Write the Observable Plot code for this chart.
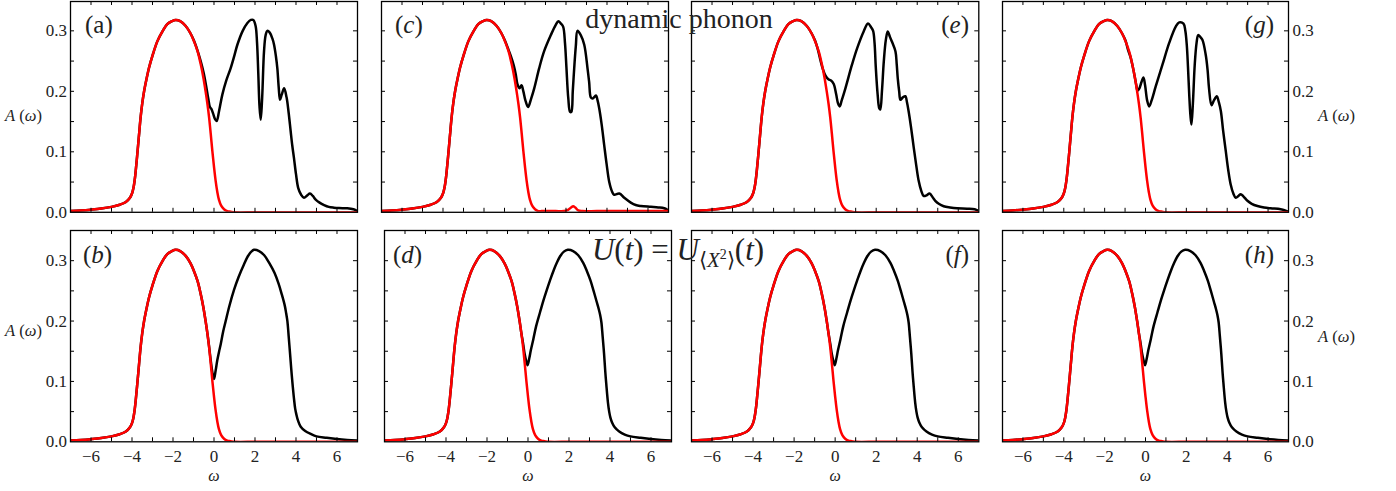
<!DOCTYPE html>
<html><head><meta charset="utf-8">
<script src="https://cdn.jsdelivr.net/npm/d3@7"></script>
<script src="https://cdn.jsdelivr.net/npm/@observablehq/plot@0.6"></script>
<style>
html,body{margin:0;padding:0;background:#fff;}
#fig{position:relative;width:1396px;height:491px;overflow:hidden;background:#fff;font-family:"Liberation Serif",serif;}
#fig svg{position:absolute;overflow:visible;}
#fig svg.pan text{font-family:"Liberation Serif",serif;font-size:17px;fill:#222;}
#fig svg.pan g[aria-label="text"] text{font-size:16px;font-style:italic;}
</style></head><body><div id="fig"></div>
<script>
// ---------------- data ----------------
// occupied spectral weight (red), shared by all panels
const omegaRed = [-7, -6.5, -6, -5.5, -5, -4.6, -4.3, -4.1, -4.0, -3.93, -3.87, -3.82, -3.75, -3.66, -3.58, -3.5, -3.41, -3.3, -3.17, -3.0, -2.76, -2.5, -2.28, -2.05, -1.87, -1.65, -1.38, -1.15, -0.98, -0.8, -0.65, -0.52, -0.41, -0.32, -0.24, -0.16, -0.08, 0, 0.08, 0.16, 0.24, 0.35, 0.49, 0.65, 0.81, 1.0, 2.0, 3.0, 4.0, 5.0, 6.0, 7.0];
const aRed = [0.002, 0.003, 0.0044, 0.0062, 0.009, 0.0125, 0.017, 0.024, 0.031, 0.04, 0.053, 0.068, 0.093, 0.127, 0.157, 0.18, 0.2, 0.219, 0.239, 0.259, 0.283, 0.3, 0.311, 0.316, 0.318, 0.316, 0.308, 0.296, 0.283, 0.266, 0.245, 0.223, 0.2, 0.179, 0.157, 0.13, 0.101, 0.075, 0.052, 0.034, 0.021, 0.011, 0.005, 0.002, 0.001, 0, 0, 0, 0, 0, 0, 0];
// small bump of the red curve in panel (c), right of omega = 0.81
const omegaRedTailC = [0.81, 1.0, 1.5, 1.9, 2.1, 2.25, 2.35, 2.45, 2.6, 2.8, 3.5, 4.5, 5.5, 6.5, 7.0];
const aRedTailC = [0.002, 0.002, 0.002, 0.002, 0.004, 0.008, 0.01, 0.008, 0.003, 0.002, 0.002, 0.002, 0.002, 0.002, 0.002];

// total spectral function (black), top row: part right of omega = -0.98
const omegaBlackA = [-0.98, -0.8, -0.65, -0.5, -0.38, -0.28, -0.2, -0.13, -0.05, 0.05, 0.13, 0.25, 0.41, 0.6, 0.81, 1.0, 1.14, 1.4, 1.63, 1.8, 1.92, 2.03, 2.1, 2.16, 2.22, 2.28, 2.35, 2.44, 2.52, 2.6, 2.72, 2.85, 2.93, 3.02, 3.09, 3.16, 3.22, 3.3, 3.42, 3.54, 3.64, 3.74, 3.82, 3.9, 4.0, 4.11, 4.25, 4.39, 4.55, 4.68, 4.82, 4.96, 5.15, 5.37, 5.6, 5.85, 6.1, 6.5, 6.8, 7.0];
const aBlackA = [0.284, 0.267, 0.25, 0.23, 0.208, 0.188, 0.174, 0.171, 0.164, 0.154, 0.151, 0.168, 0.195, 0.218, 0.238, 0.26, 0.277, 0.3, 0.313, 0.318, 0.318, 0.308, 0.28, 0.23, 0.175, 0.153, 0.19, 0.266, 0.293, 0.3, 0.297, 0.287, 0.277, 0.258, 0.238, 0.205, 0.186, 0.194, 0.205, 0.19, 0.165, 0.134, 0.11, 0.09, 0.063, 0.04, 0.029, 0.024, 0.028, 0.031, 0.027, 0.021, 0.016, 0.012, 0.009, 0.0077, 0.007, 0.0066, 0.005, 0.002];

const omegaBlackC = [-0.98, -0.8, -0.69, -0.55, -0.45, -0.37, -0.27, -0.17, -0.08, 0.02, 0.15, 0.3, 0.45, 0.69, 0.93, 1.26, 1.5, 1.63, 1.75, 1.86, 1.95, 2.02, 2.11, 2.2, 2.26, 2.33, 2.4, 2.48, 2.56, 2.72, 2.89, 3.05, 3.13, 3.21, 3.3, 3.46, 3.54, 3.62, 3.74, 3.86, 3.98, 4.11, 4.25, 4.35, 4.6, 4.84, 5.16, 5.4, 5.65, 6.14, 6.5, 6.79, 7.0];
const aBlackC = [0.284, 0.268, 0.258, 0.243, 0.228, 0.212, 0.205, 0.21, 0.2, 0.185, 0.174, 0.188, 0.205, 0.238, 0.266, 0.293, 0.31, 0.316, 0.312, 0.307, 0.28, 0.24, 0.189, 0.166, 0.166, 0.2, 0.238, 0.275, 0.3, 0.293, 0.277, 0.238, 0.215, 0.19, 0.188, 0.193, 0.185, 0.172, 0.145, 0.112, 0.08, 0.05, 0.034, 0.029, 0.031, 0.024, 0.016, 0.012, 0.0104, 0.009, 0.008, 0.0066, 0.003];

const omegaBlackE = [-0.98, -0.85, -0.72, -0.6, -0.47, -0.33, -0.2, -0.07, 0.05, 0.14, 0.22, 0.32, 0.5, 0.82, 1.07, 1.39, 1.6, 1.75, 1.85, 1.92, 1.98, 2.07, 2.15, 2.2, 2.28, 2.37, 2.47, 2.56, 2.67, 2.77, 2.94, 3.0, 3.05, 3.12, 3.18, 3.3, 3.42, 3.5, 3.58, 3.7, 3.83, 3.95, 4.07, 4.2, 4.31, 4.45, 4.6, 4.75, 4.88, 5.05, 5.29, 5.6, 5.94, 6.43, 6.8, 7.0];
const aBlackE = [0.284, 0.27, 0.252, 0.237, 0.226, 0.22, 0.218, 0.212, 0.195, 0.18, 0.175, 0.185, 0.205, 0.244, 0.271, 0.299, 0.312, 0.306, 0.3, 0.28, 0.24, 0.195, 0.172, 0.17, 0.2, 0.249, 0.285, 0.299, 0.29, 0.282, 0.266, 0.245, 0.222, 0.2, 0.186, 0.19, 0.192, 0.182, 0.167, 0.14, 0.107, 0.078, 0.052, 0.035, 0.027, 0.028, 0.031, 0.025, 0.019, 0.014, 0.01, 0.008, 0.0066, 0.006, 0.005, 0.002];

const omegaBlackG = [-0.98, -0.85, -0.72, -0.56, -0.45, -0.39, -0.3, -0.2, -0.1, -0.02, 0.08, 0.18, 0.3, 0.5, 0.83, 1.16, 1.48, 1.65, 1.86, 1.95, 2.02, 2.08, 2.14, 2.2, 2.25, 2.32, 2.41, 2.5, 2.58, 2.68, 2.79, 2.95, 3.04, 3.11, 3.23, 3.35, 3.49, 3.59, 3.69, 3.8, 3.93, 4.05, 4.17, 4.3, 4.42, 4.55, 4.66, 4.8, 4.99, 5.2, 5.48, 5.8, 6.13, 6.62, 7.0];
const aBlackG = [0.284, 0.268, 0.255, 0.23, 0.21, 0.201, 0.205, 0.215, 0.223, 0.21, 0.185, 0.175, 0.185, 0.208, 0.244, 0.28, 0.307, 0.314, 0.312, 0.3, 0.277, 0.24, 0.195, 0.16, 0.145, 0.18, 0.244, 0.28, 0.293, 0.29, 0.285, 0.26, 0.235, 0.205, 0.177, 0.185, 0.192, 0.182, 0.167, 0.135, 0.101, 0.07, 0.046, 0.031, 0.024, 0.027, 0.03, 0.026, 0.019, 0.014, 0.0104, 0.008, 0.0066, 0.005, 0.001];

// total spectral function (black), bottom row: part right of omega = -0.24
const omegaBlackB = [-0.24, -0.16, -0.08, 0, 0.08, 0.16, 0.25, 0.33, 0.45, 0.57, 0.75, 0.98, 1.2, 1.45, 1.7, 1.95, 2.2, 2.45, 2.7, 2.95, 3.15, 3.3, 3.45, 3.52, 3.58, 3.64, 3.71, 3.77, 3.82, 3.9, 3.96, 4.02, 4.1, 4.23, 4.45, 4.72, 5.0, 5.5, 6.0, 6.5, 7.0];
const aBlackB = [0.158, 0.135, 0.115, 0.104, 0.118, 0.135, 0.15, 0.162, 0.183, 0.2, 0.225, 0.252, 0.273, 0.293, 0.31, 0.318, 0.316, 0.309, 0.296, 0.28, 0.262, 0.245, 0.226, 0.213, 0.2, 0.176, 0.146, 0.12, 0.1, 0.072, 0.055, 0.045, 0.035, 0.025, 0.018, 0.013, 0.009, 0.0066, 0.0045, 0.003, 0.002];
const omegaBlackD = [-0.24, -0.16, -0.08, -0.02, 0.06, 0.14, 0.26, 0.4, 0.59, 0.75, 0.91, 1.07, 1.24, 1.4, 1.56, 1.75, 1.94, 2.2, 2.45, 2.7, 2.87, 3.05, 3.2, 3.35, 3.45, 3.52, 3.58, 3.64, 3.71, 3.77, 3.82, 3.9, 3.96, 4.02, 4.1, 4.23, 4.45, 4.72, 5.0, 5.5, 6.0, 6.5, 7.0];
const aBlackD = [0.163, 0.145, 0.133, 0.127, 0.138, 0.152, 0.17, 0.192, 0.215, 0.234, 0.251, 0.267, 0.283, 0.296, 0.307, 0.315, 0.318, 0.316, 0.309, 0.296, 0.283, 0.267, 0.25, 0.232, 0.22, 0.21, 0.198, 0.175, 0.146, 0.116, 0.095, 0.065, 0.05, 0.04, 0.032, 0.024, 0.017, 0.012, 0.009, 0.0066, 0.0045, 0.003, 0.002];

// ticks
const xTicks = [-6, -5, -4, -3, -2, -1, 0, 1, 2, 3, 4, 5, 6];
const xTickLabels = [-6, -4, -2, 0, 2, 4, 6];
const yTicks = [0.05, 0.1, 0.15, 0.2, 0.25, 0.3];
const yTickLabels = [0, 0.1, 0.2, 0.3];

// texts
const titleText = "dynamic phonon";
const panelLetters = ["a", "c", "e", "g", "b", "d", "f", "h"];

// ---------------- tables built from the arrays ----------------
const zip = (ws, as) => ws.map((w, i) => ({w, a: as[i]}));
const before = (ws, as, lim) => zip(ws, as).filter(d => d.w < lim);
const redBase = zip(omegaRed, aRed);
const redC = [...before(omegaRed, aRed, 0.81), ...zip(omegaRedTailC, aRedTailC)];
const topBlack = (ws, as) => [...before(omegaRed, aRed, -0.98), ...zip(ws, as)];
const botBlack = (ws, as) => [...before(omegaRed, aRed, -0.24), ...zip(ws, as)];

// ---------------- layout ----------------
const rowTop = {T: 0.5, B: 211.3, ymax: 0.3485};
const rowBot = {T: 230, B: 441.3, ymax: 0.35};
const panels = [
  {L: 70, R: 357, ...rowTop, black: topBlack(omegaBlackA, aBlackA), red: redBase, left: true},
  {L: 380.7, R: 667.7, ...rowTop, black: topBlack(omegaBlackC, aBlackC), red: redC},
  {L: 691, R: 978.3, ...rowTop, black: topBlack(omegaBlackE, aBlackE), red: redBase},
  {L: 1001.7, R: 1287.7, ...rowTop, black: topBlack(omegaBlackG, aBlackG), red: redBase, right: true},
  {L: 70, R: 357, ...rowBot, black: botBlack(omegaBlackB, aBlackB), red: redBase, left: true, bottom: true},
  {L: 384, R: 671, ...rowBot, black: botBlack(omegaBlackD, aBlackD), red: redBase, bottom: true},
  {L: 691, R: 978.3, ...rowBot, black: botBlack(omegaBlackD, aBlackD), red: redBase, bottom: true},
  {L: 1001.7, R: 1287.7, ...rowBot, black: botBlack(omegaBlackD, aBlackD), red: redBase, right: true, bottom: true}
];

const fig = document.getElementById("fig");
const ml = 60, mr = 60, mt = 6, mb = 50;
for (const p of panels) {
  const W = p.R - p.L, H = p.B - p.T;
  const marks = [
    Plot.line(p.black, {x: "w", y: "a", stroke: "#000", strokeWidth: 2.5, curve: "catmull-rom", clip: true}),
    Plot.line(p.red, {x: "w", y: "a", stroke: "#ff0000", strokeWidth: 2.5, curve: "catmull-rom", clip: true}),
    Plot.tickX(xTicks, {x: d => d, insetTop: H - 4, stroke: "#000", strokeWidth: 1}),
    Plot.tickX(xTicks, {x: d => d, insetBottom: H - 4, stroke: "#000", strokeWidth: 1}),
    Plot.tickY(yTicks, {y: d => d, insetRight: W - 4, stroke: "#000", strokeWidth: 1}),
    Plot.tickY(yTicks, {y: d => d, insetLeft: W - 4, stroke: "#000", strokeWidth: 1}),
    Plot.frame({stroke: "#000", strokeWidth: 1.3})
  ];
  if (p.bottom) {
    marks.push(Plot.axisX(xTickLabels, {anchor: "bottom", tickSize: 0, tickPadding: 8, label: null, fontSize: 17}));
    marks.push(Plot.text(["ω"], {text: d => d, frameAnchor: "bottom", dy: 39, fontSize: 16, fontStyle: "italic"}));
  }
  if (p.left) marks.push(Plot.axisY(yTickLabels, {anchor: "left", tickSize: 0, tickPadding: 3.5, tickFormat: ".1f", label: null, fontSize: 17}));
  if (p.right) marks.push(Plot.axisY(yTickLabels, {anchor: "right", tickSize: 0, tickPadding: 4, tickFormat: ".1f", label: null, fontSize: 17}));
  const svg = Plot.plot({
    width: W + ml + mr, height: H + mt + mb,
    marginLeft: ml, marginRight: mr, marginTop: mt, marginBottom: mb,
    x: {domain: [-7, 7], axis: null},
    y: {domain: [0, p.ymax], axis: null},
    style: {background: "transparent", overflow: "visible", fontFamily: "'Liberation Serif', serif", fontSize: "17px"},
    marks
  });
  svg.classList.add("pan");
  svg.style.left = (p.L - ml) + "px";
  svg.style.top = (p.T - mt) + "px";
  fig.appendChild(svg);
}

// ---------------- annotations ----------------
const ov = d3.select(fig).append("svg")
  .attr("width", 1396).attr("height", 491)
  .style("left", "0px").style("top", "0px")
  .style("font-family", "'Liberation Serif', serif").attr("fill", "#222");

ov.append("text").attr("x", 679).attr("y", 28).attr("text-anchor", "middle")
  .style("font-size", "28px").text(titleText);

// U(t) = U_<X^2>(t)
{
  const t = ov.append("text").attr("x", 678).attr("y", 260).attr("text-anchor", "middle").style("font-size", "31px");
  t.append("tspan").attr("font-style", "italic").text("U");
  t.append("tspan").text("(");
  t.append("tspan").attr("font-style", "italic").text("t");
  t.append("tspan").text(") = ");
  t.append("tspan").attr("font-style", "italic").text("U");
  t.append("tspan").style("font-size", "21px").attr("dy", 7).text("⟨");
  t.append("tspan").style("font-size", "21px").attr("font-style", "italic").text("X");
  t.append("tspan").style("font-size", "14px").attr("dy", -8).text("2");
  t.append("tspan").style("font-size", "21px").attr("dy", 8).text("⟩");
  t.append("tspan").attr("dy", -7).text("(");
  t.append("tspan").attr("font-style", "italic").text("t");
  t.append("tspan").text(")");
}

// panel labels
const labelPos = [
  {x: 85, y: 33, anchor: "start"}, {x: 395, y: 33, anchor: "start"},
  {x: 969, y: 33, anchor: "end"}, {x: 1274, y: 33, anchor: "end"},
  {x: 83, y: 263, anchor: "start"}, {x: 393, y: 263, anchor: "start"},
  {x: 969, y: 263, anchor: "end"}, {x: 1274, y: 263, anchor: "end"}
];
panelLetters.forEach((ch, i) => {
  const lp = labelPos[i];
  const t = ov.append("text").attr("x", lp.x).attr("y", lp.y).attr("text-anchor", lp.anchor).style("font-size", "25px");
  t.append("tspan").text("(");
  t.append("tspan").attr("font-style", ch === "a" ? "normal" : "italic").text(ch);
  t.append("tspan").text(")");
});

// y-axis labels A(ω)
const yLabPos = [{x: 5, y: 121}, {x: 5, y: 336}, {x: 1318, y: 121}, {x: 1318, y: 342}];
yLabPos.forEach(lp => {
  const t = ov.append("text").attr("x", lp.x).attr("y", lp.y).style("font-size", "16.5px");
  t.append("tspan").attr("font-style", "italic").text("A");
  t.append("tspan").text(" (");
  t.append("tspan").attr("font-style", "italic").text("ω");
  t.append("tspan").text(")");
});
</script></body></html>
